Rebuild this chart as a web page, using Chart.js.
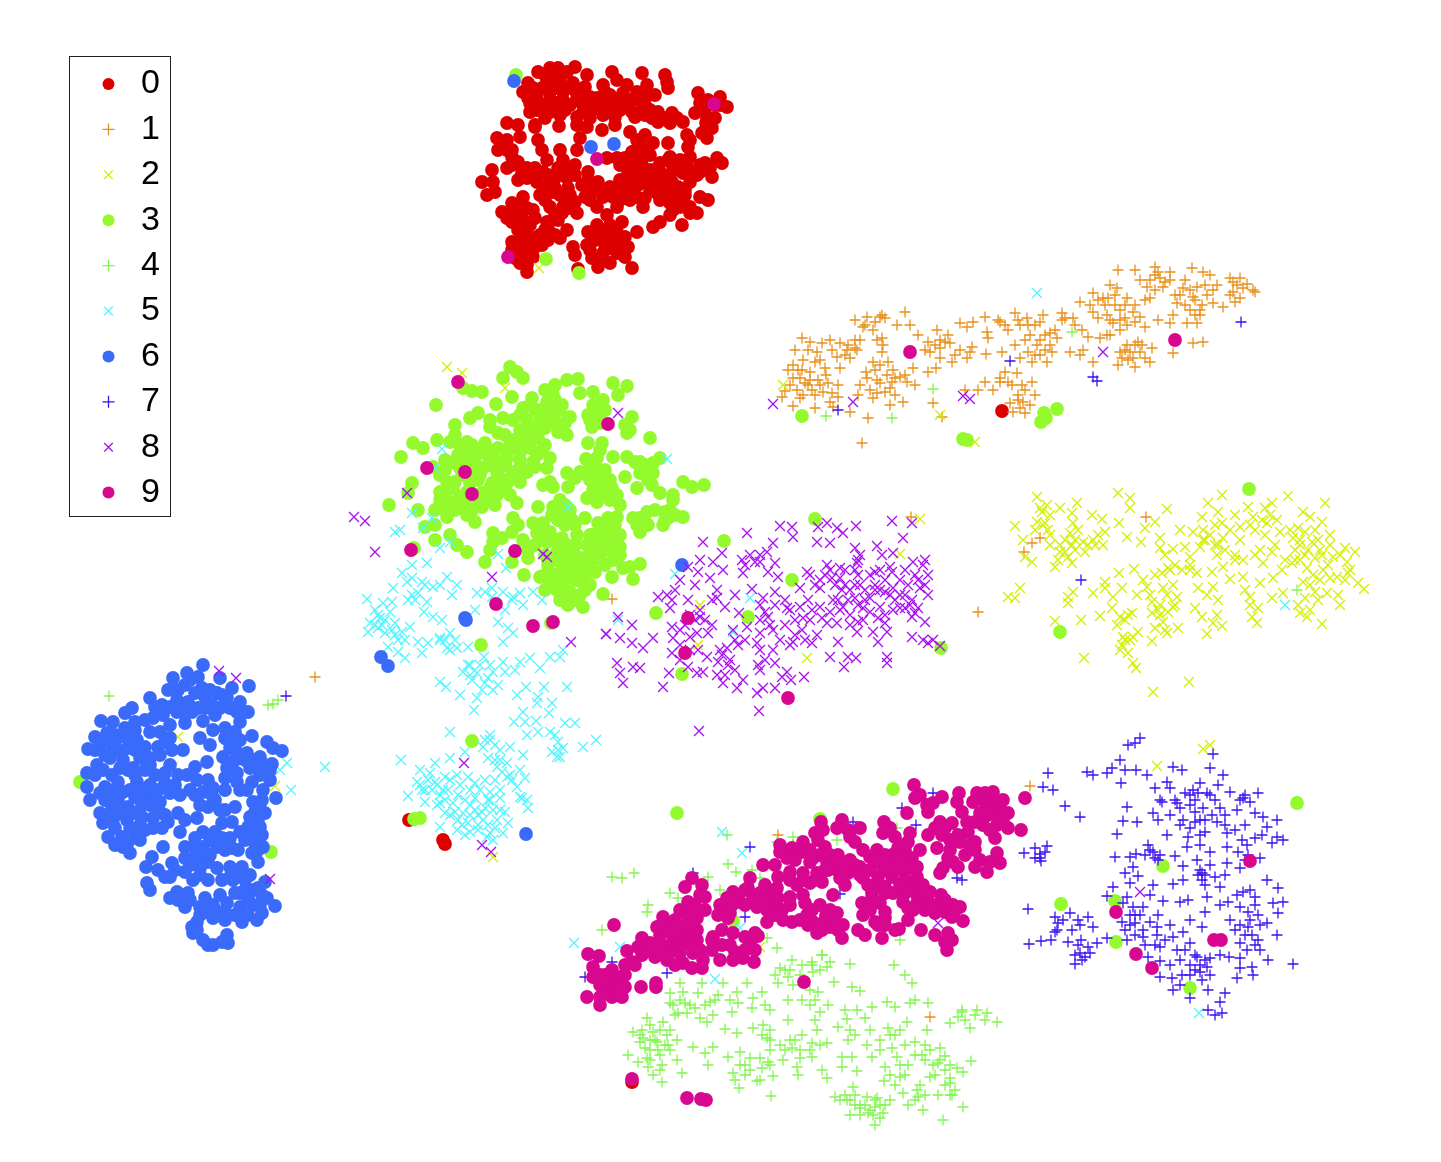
<!DOCTYPE html>
<html>
<head>
<meta charset="utf-8">
<title>tsne</title>
<script src="https://cdn.jsdelivr.net/npm/chart.js@4"></script>
<style>
  html, body { margin: 0; padding: 0; background: #fff; }
  canvas { display: block; }
</style>
</head>
<body>
<canvas id="chartTsne" width="1441" height="1162"></canvas>
<script>
// ************************************
// DATA
// ************************************
const digit_labels = ['0', '1', '2', '3', '4', '5', '6', '7', '8', '9'];

const digit0 = [[538,72],[550,68],[558,68],[575,67],[587,75],[528,83],[523,92],[547,80],[560,80],[573,83],[585,87],[537,95],[550,92],[563,92],[577,95],[530,103],[543,105],[557,103],[570,105],[583,105],[530,112],[545,118],[559,126],[560,115],[577,117],[577,125],[587,127],[535,125],[603,85],[597,98],[610,95],[610,105],[595,108],[603,115],[615,117],[602,130],[615,125],[612,72],[617,80],[627,85],[642,73],[647,85],[623,93],[637,92],[655,95],[627,105],[635,117],[645,105],[645,115],[658,112],[672,113],[658,122],[670,123],[683,122],[665,75],[667,82],[668,88],[698,93],[720,97],[700,103],[715,105],[727,107],[695,113],[707,118],[715,118],[712,128],[702,133],[707,138],[687,135],[688,147],[668,143],[670,157],[690,157],[700,165],[717,158],[722,163],[710,168],[712,177],[697,175],[690,182],[660,163],[673,167],[683,173],[663,175],[678,187],[667,190],[653,182],[630,132],[637,140],[653,143],[647,150],[632,152],[617,158],[630,163],[642,165],[607,158],[628,173],[640,175],[638,185],[620,187],[610,187],[630,192],[647,183],[683,200],[700,197],[708,200],[690,207],[673,210],[697,213],[682,225],[670,215],[660,222],[653,227],[678,197],[660,200],[668,190],[643,207],[637,197],[657,193],[613,197],[623,197],[603,197],[597,207],[607,215],[617,207],[585,197],[597,225],[622,222],[588,232],[605,230],[617,232],[637,232],[587,245],[603,240],[617,243],[628,247],[592,258],[603,253],[617,253],[625,257],[598,267],[610,263],[632,268],[578,269],[507,123],[518,125],[535,127],[520,137],[497,138],[507,140],[498,150],[512,150],[538,140],[542,150],[492,170],[507,168],[518,162],[527,168],[482,182],[493,182],[518,180],[487,195],[495,192],[560,150],[547,160],[563,160],[577,150],[580,138],[543,172],[558,168],[575,165],[588,172],[537,182],[550,182],[567,178],[598,182],[540,195],[553,192],[568,188],[550,207],[563,207],[575,202],[577,213],[558,220],[512,203],[523,197],[502,212],[513,213],[527,208],[512,222],[523,220],[533,210],[547,222],[527,232],[540,235],[548,228],[567,230],[512,242],[525,242],[542,245],[512,250],[525,253],[533,257],[520,263],[527,272],[560,238],[573,247],[575,255],[555,235],[443,840],[445,844],[409,820],[1002,411],[632,1082],
[545,75],[555,74],[567,72],[533,88],[542,88],[556,88],[568,88],[580,92],[528,98],[537,102],[550,100],[563,100],[577,100],[590,97],[537,110],[550,112],[565,110],[583,112],[592,105],[605,92],[603,105],[590,118],[610,112],[620,98],[632,100],[640,100],[648,95],[620,110],[632,112],[640,112],[650,110],[652,118],[664,118],[677,118],[705,110],[708,100],[720,105],[709,126],[706,123],[690,140],[680,160],[680,170],[688,168],[692,172],[700,172],[705,163],[670,175],[655,170],[668,160],[650,170],[660,172],[650,190],[660,185],[672,182],[675,195],[685,190],[670,203],[680,207],[690,213],[685,195],[645,198],[632,182],[620,180],[615,192],[625,185],[635,170],[620,165],[625,158],[640,157],[650,155],[640,145],[645,135],[636,150],[600,190],[608,193],[620,200],[630,200],[590,200],[610,225],[597,235],[610,235],[625,237],[595,240],[610,248],[622,250],[600,260],[605,245],[612,240],[590,250],[502,145],[507,150],[512,157],[512,165],[522,173],[527,178],[532,172],[535,168],[548,175],[555,178],[545,188],[555,188],[545,200],[560,195],[568,200],[570,195],[562,213],[555,215],[570,208],[545,230],[518,205],[510,212],[518,213],[507,218],[518,230],[530,225],[535,218],[520,240],[532,238],[518,250],[530,250],[540,240],[535,247],[548,240],[515,258],[523,260],[527,265],[560,175],[570,170],[575,175],[582,185],[590,185],[595,190],[588,180]];

const digit1 = [[802,338],[810,342],[822,343],[830,340],[840,343],[855,340],[847,350],[837,357],[850,358],[857,350],[817,352],[803,360],[793,365],[788,370],[802,370],[815,362],[825,368],[840,368],[810,372],[800,378],[818,380],[828,383],[805,383],[797,390],[812,390],[823,392],[832,393],[785,391],[782,397],[793,406],[803,395],[815,395],[830,402],[838,397],[833,407],[815,408],[850,412],[867,378],[873,362],[882,352],[888,362],[875,370],[887,375],[893,370],[900,377],[860,385],[880,383],[892,382],[907,382],[915,385],[877,393],[873,398],[858,395],[890,388],[890,405],[903,402],[868,418],[913,368],[855,320],[867,317],[882,315],[880,317],[863,327],[873,330],[882,338],[897,325],[910,325],[905,312],[918,335],[928,342],[937,330],[948,335],[930,352],[940,348],[950,343],[960,350],[940,358],[952,362],[967,358],[928,372],[972,347],[986,354],[960,323],[973,322],[985,317],[998,320],[967,327],[987,332],[988,338],[1008,330],[1002,352],[1015,345],[1015,313],[1027,318],[1043,315],[1020,325],[1035,325],[1030,335],[1050,333],[1057,338],[1037,345],[1050,345],[1028,352],[1040,355],[1032,362],[1047,362],[1062,313],[1073,318],[1062,320],[1082,330],[1088,337],[1100,338],[1110,335],[1070,352],[1083,350],[1093,362],[1080,355],[1122,358],[1130,352],[1138,342],[1133,358],[1140,352],[1152,348],[1150,362],[1135,367],[1118,365],[1173,353],[1193,343],[1203,342],[1005,372],[1017,373],[1008,382],[1000,382],[1032,382],[985,382],[993,390],[978,390],[965,390],[1018,395],[1035,395],[1023,402],[1010,403],[1013,412],[1025,413],[933,403],[942,417],[862,443],[1080,302],[1093,293],[1103,298],[1110,285],[1118,270],[1135,270],[1117,288],[1127,298],[1140,280],[1155,275],[1170,272],[1147,287],[1163,287],[1150,298],[1155,267],[1192,268],[1203,272],[1183,288],[1197,287],[1210,275],[1217,285],[1180,295],[1193,297],[1207,295],[1223,307],[1177,303],[1200,310],[1213,303],[1230,278],[1240,278],[1233,292],[1243,288],[1253,290],[1240,298],[1230,295],[1093,312],[1107,315],[1120,310],[1133,312],[1113,323],[1127,325],[1140,317],[1145,327],[1098,318],[1158,320],[1170,323],[1187,323],[1197,323],[1173,315],[1200,315],[1107,335],[1146,517],[1032,543],[1040,538],[1024,552],[612,599],[911,517],[315,677],[1030,786],[778,835],[793,845],[930,1017],[978,612],
[795,350],[808,350],[820,360],[832,350],[845,355],[798,370],[810,380],[793,378],[790,385],[800,398],[808,385],[820,385],[826,375],[838,385],[848,345],[855,348],[860,340],[865,325],[875,322],[885,318],[877,340],[883,345],[880,365],[895,378],[905,375],[885,392],[877,380],[866,372],[895,395],[870,390],[940,340],[935,345],[945,342],[955,355],[925,350],[936,368],[970,352],[1000,322],[1005,325],[1018,320],[1028,325],[1040,322],[1025,340],[1040,340],[1045,335],[1055,330],[1045,350],[1035,355],[1020,358],[1052,352],[1065,318],[1075,325],[1090,305],[1098,300],[1108,298],[1115,295],[1125,305],[1135,305],[1145,300],[1150,280],[1160,278],[1165,282],[1155,290],[1170,280],[1158,272],[1175,295],[1185,280],[1190,290],[1195,300],[1202,305],[1205,285],[1213,290],[1190,310],[1195,315],[1185,305],[1233,282],[1237,285],[1247,284],[1255,292],[1235,302],[1125,350],[1127,345],[1135,345],[1142,345],[1128,360],[1120,352],[1145,358],[1110,320],[1120,320],[1125,318],[1105,305],[1115,305],[1135,322],[1120,330],[1000,378],[1012,385],[1025,390],[1022,385],[1030,405],[1020,408],[1018,400]];

const digit2 = [[1037,497],[1040,508],[1047,505],[1037,522],[1045,523],[1048,530],[1015,526],[1023,540],[1025,557],[1032,562],[1050,545],[1060,508],[1077,503],[1072,513],[1073,523],[1070,533],[1072,545],[1060,552],[1068,557],[1072,563],[1058,560],[1055,567],[1085,552],[1083,542],[1093,540],[1092,515],[1102,519],[1105,532],[1103,545],[1118,493],[1130,498],[1130,508],[1119,523],[1127,537],[1141,542],[1167,509],[1155,522],[1145,528],[1160,538],[1160,548],[1173,549],[1180,530],[1193,532],[1185,547],[1190,557],[1202,517],[1208,503],[1222,495],[1218,512],[1203,530],[1222,523],[1200,547],[1217,555],[1223,538],[1235,515],[1248,507],[1240,527],[1253,517],[1265,508],[1272,503],[1288,496],[1325,503],[1267,523],[1277,520],[1280,532],[1235,555],[1243,560],[1255,555],[1272,552],[1263,563],[1243,577],[1230,579],[1223,567],[1212,572],[1260,583],[1273,578],[1282,570],[1292,563],[1300,560],[1293,538],[1303,512],[1310,517],[1322,522],[1298,528],[1312,542],[1330,535],[1295,550],[1308,550],[1320,550],[1345,548],[1355,552],[1333,557],[1347,562],[1307,568],[1323,570],[1337,577],[1348,573],[1320,580],[1358,583],[1364,589],[1303,582],[1315,592],[1327,593],[1338,595],[1340,605],[1283,593],[1272,598],[1250,597],[1250,605],[1258,608],[1252,617],[1257,623],[1298,605],[1300,613],[1310,610],[1307,617],[1322,624],[1015,598],[1020,588],[1008,597],[1068,597],[1073,592],[1068,603],[1093,593],[1105,582],[1105,588],[1119,573],[1134,569],[1143,580],[1162,573],[1168,568],[1182,570],[1197,573],[1122,588],[1137,595],[1113,597],[1112,608],[1147,587],[1163,588],[1173,585],[1177,597],[1167,595],[1152,602],[1160,605],[1173,607],[1152,613],[1120,617],[1132,613],[1117,625],[1163,622],[1155,628],[1167,633],[1178,628],[1123,637],[1133,637],[1138,632],[1152,641],[1120,650],[1128,653],[1133,663],[1136,668],[1084,658],[1081,620],[1100,616],[1055,621],[1189,682],[1153,692],[1198,588],[1207,595],[1213,587],[1218,600],[1195,608],[1202,617],[1217,615],[1213,623],[1207,634],[1222,626],[447,367],[462,373],[505,388],[178,737],[173,767],[275,786],[539,268],[493,857],[700,605],[698,645],[807,658],[900,554],[920,519],[783,385],[940,415],[975,442],[1157,766],[1203,749],[1210,745],[760,947],
[1042,512],[1050,515],[1043,525],[1050,535],[1035,530],[1078,530],[1075,540],[1065,540],[1060,545],[1065,552],[1075,550],[1088,545],[1098,535],[1095,545],[1210,535],[1215,525],[1230,530],[1240,540],[1250,525],[1255,530],[1262,520],[1270,515],[1265,535],[1275,545],[1285,560],[1260,550],[1290,530],[1300,540],[1305,532],[1315,530],[1318,540],[1295,560],[1305,555],[1300,545],[1315,558],[1322,555],[1330,545],[1340,555],[1328,565],[1313,575],[1330,578],[1310,585],[1345,580],[1350,570],[1318,600],[1305,598],[1245,590],[1225,550],[1235,560],[1215,545],[1205,540],[1165,555],[1170,570],[1175,565],[1155,575],[1190,565],[1150,595],[1158,610],[1168,612],[1125,620],[1128,615],[1125,640],[1130,640],[1122,645],[1165,630],[1160,615],[1175,605],[1190,570],[1203,540],[1218,545]];

const digit3 = [[510,367],[503,378],[523,378],[517,372],[512,397],[463,388],[472,391],[482,392],[436,405],[496,404],[555,385],[567,380],[578,379],[553,395],[580,393],[593,392],[613,383],[627,386],[618,395],[532,398],[547,402],[562,405],[523,408],[535,410],[555,413],[513,420],[527,420],[540,420],[552,422],[570,417],[565,423],[558,432],[567,435],[593,405],[603,400],[588,415],[600,413],[592,427],[632,417],[625,425],[627,433],[650,438],[470,418],[478,413],[490,420],[503,418],[490,427],[498,433],[455,425],[455,435],[450,442],[437,440],[413,443],[423,448],[401,457],[467,442],[485,443],[463,452],[475,453],[453,462],[467,463],[487,455],[498,448],[515,440],[527,437],[538,438],[515,448],[530,448],[542,450],[550,458],[520,460],[533,462],[547,468],[507,458],[495,460],[483,468],[497,472],[512,472],[527,472],[447,482],[462,475],[478,480],[492,483],[507,483],[520,482],[440,492],[453,488],[467,492],[482,493],[497,495],[510,495],[412,483],[408,493],[389,505],[450,502],[463,503],[482,507],[495,505],[517,503],[418,510],[435,510],[447,517],[467,515],[475,522],[435,525],[425,527],[433,467],[513,518],[518,525],[512,532],[538,507],[493,533],[502,538],[490,550],[435,540],[450,535],[457,545],[467,552],[485,562],[512,562],[524,575],[493,542],[543,485],[553,487],[550,482],[567,473],[580,472],[568,487],[587,475],[586,459],[588,443],[602,443],[597,458],[613,457],[627,457],[635,462],[660,458],[653,463],[625,477],[640,473],[653,473],[637,488],[652,485],[660,493],[683,482],[692,487],[704,485],[673,495],[673,500],[597,475],[603,483],[593,490],[607,495],[587,498],[597,502],[617,495],[620,505],[553,507],[563,512],[558,520],[572,520],[585,518],[577,535],[533,523],[543,523],[537,533],[550,532],[562,538],[523,540],[528,550],[528,558],[547,542],[557,552],[570,550],[548,565],[540,577],[560,562],[598,523],[608,518],[617,517],[593,535],[610,532],[587,545],[603,545],[620,547],[583,558],[598,558],[613,560],[623,568],[640,564],[630,567],[612,577],[633,579],[595,572],[633,518],[647,512],[637,525],[648,525],[640,532],[665,512],[675,515],[683,517],[663,525],[563,568],[577,565],[587,572],[550,582],[567,578],[582,582],[557,590],[570,592],[580,595],[568,605],[583,607],[603,594],[414,548],[516,75],[546,259],[579,273],[802,416],[963,439],[967,440],[1044,413],[1057,409],[1046,418],[1041,422],[815,519],[724,541],[792,580],[748,617],[682,674],[656,613],[941,648],[1249,489],[1060,632],[481,645],[472,741],[414,819],[420,818],[80,782],[271,852],[677,813],[893,789],[820,819],[733,921],[1297,803],[1061,904],[1115,901],[1116,942],[1163,866],[1190,988],[551,623],
[505,435],[520,430],[535,430],[510,440],[522,445],[545,445],[505,450],[520,452],[537,455],[505,465],[520,467],[535,467],[490,465],[475,462],[460,468],[445,470],[440,475],[470,470],[480,475],[455,482],[470,483],[500,478],[515,478],[445,497],[460,497],[475,500],[490,488],[503,490],[490,500],[472,510],[455,510],[445,510],[440,500],[472,445],[480,452],[490,450],[460,445],[458,455],[445,460],[530,405],[540,410],[520,415],[530,428],[545,428],[560,410],[547,415],[560,425],[598,405],[605,410],[590,420],[600,423],[545,390],[555,400],[630,430],[600,450],[595,465],[605,470],[610,480],[600,495],[590,480],[600,490],[612,488],[610,500],[575,478],[590,465],[645,465],[650,468],[640,462],[648,480],[640,518],[645,522],[655,510],[670,510],[668,518],[665,520],[560,500],[565,505],[552,515],[565,525],[575,525],[570,510],[545,530],[555,540],[567,545],[575,545],[540,540],[560,550],[545,555],[535,545],[555,575],[550,560],[545,575],[565,560],[575,572],[575,580],[590,555],[600,535],[605,525],[615,525],[610,540],[600,555],[610,550],[590,535],[595,545],[605,565],[620,555],[620,535],[593,560],[545,590],[560,600],[575,600],[565,590],[557,580],[575,555],[585,565],[590,585],[572,570],[585,590]];

const digit4 = [[680,983],[670,993],[683,992],[698,993],[702,983],[723,983],[718,995],[737,992],[747,983],[673,1005],[685,1003],[678,1013],[687,1013],[700,1018],[713,1015],[707,1022],[710,1002],[732,1012],[738,1003],[752,1008],[753,998],[762,992],[765,1005],[770,1010],[775,975],[780,968],[792,960],[802,965],[812,962],[822,955],[827,967],[788,977],[778,983],[813,972],[834,982],[850,964],[852,987],[860,991],[818,992],[788,1000],[802,1000],[810,1005],[828,1005],[820,1012],[894,965],[905,975],[912,983],[915,1000],[910,1003],[928,1003],[887,1002],[895,1007],[872,1007],[857,1010],[845,1010],[865,1018],[847,1019],[838,1027],[647,1018],[663,1022],[642,1030],[633,1032],[653,1032],[667,1035],[643,1038],[657,1042],[677,1040],[668,1045],[650,1050],[660,1055],[628,1055],[638,1062],[647,1058],[677,1060],[648,1067],[662,1065],[653,1075],[662,1082],[682,1073],[693,1047],[705,1053],[713,1047],[708,1065],[725,1029],[737,1033],[753,1028],[763,1025],[767,1038],[788,1020],[802,1035],[817,1030],[770,1050],[780,1045],[792,1048],[812,1043],[827,1043],[728,1057],[740,1052],[750,1058],[768,1062],[783,1060],[812,1057],[797,1067],[822,1070],[762,1068],[733,1073],[745,1075],[757,1081],[773,1076],[798,1075],[827,1078],[739,1088],[771,1096],[848,1040],[867,1045],[842,1057],[852,1057],[872,1057],[888,1028],[895,1035],[907,1022],[892,1048],[905,1045],[915,1042],[927,1030],[897,1057],[922,1055],[940,1048],[945,1056],[885,1067],[842,1067],[857,1071],[908,1065],[933,1065],[938,1063],[957,1068],[971,1061],[963,1072],[900,1077],[930,1077],[950,1078],[884,1081],[853,1087],[835,1097],[847,1100],[867,1097],[877,1098],[890,1100],[875,1107],[850,1115],[860,1115],[868,1113],[883,1113],[875,1125],[903,1093],[917,1090],[918,1097],[952,1095],[938,1095],[908,1105],[923,1110],[963,1107],[943,1120],[950,1083],[962,1010],[977,1010],[987,1013],[997,1022],[950,1023],[970,1028],[958,1017],[612,877],[622,878],[634,873],[648,905],[647,912],[602,930],[727,835],[777,842],[793,837],[728,864],[736,872],[752,870],[760,878],[708,877],[670,893],[678,898],[720,890],[837,840],[897,828],[900,940],[767,938],[777,948],[822,955],[109,696],[268,705],[278,700],[273,704],[826,416],[892,418],[933,389],[1072,332],[1297,590],
[650,1025],[660,1030],[670,1030],[640,1035],[655,1040],[665,1045],[650,1040],[640,1042],[658,1050],[670,1050],[645,1048],[660,1070],[650,1060],[670,1003],[680,1000],[690,1005],[675,1015],[695,1008],[705,1005],[715,1000],[730,1000],[790,970],[800,975],[812,965],[820,970],[830,962],[793,985],[785,970],[810,990],[815,1000],[815,1020],[790,1040],[795,1040],[785,1050],[800,1050],[770,1040],[762,1035],[770,1030],[810,1050],[820,1045],[800,1058],[760,1058],[745,1065],[750,1070],[735,1080],[740,1065],[770,1065],[760,1080],[850,1030],[855,1035],[870,1030],[880,1040],[890,1035],[880,1050],[900,1030],[915,1055],[925,1045],[930,1050],[940,1060],[935,1075],[945,1070],[950,1065],[925,1060],[945,1085],[955,1090],[950,1095],[920,1085],[925,1095],[915,1100],[865,1105],[875,1100],[880,1105],[870,1110],[860,1105],[855,1105],[860,1108],[885,1105],[880,1118],[873,1115],[900,1065],[890,1075],[895,1085],[905,1075],[840,1100],[850,1100],[845,1095],[855,1095],[962,1012],[965,1020],[975,1015],[985,1020]];

const digit5 = [[367,599],[383,603],[392,602],[402,573],[412,565],[427,563],[407,582],[422,582],[393,588],[418,593],[408,600],[427,602],[433,587],[447,577],[457,585],[452,595],[440,585],[424,612],[433,617],[442,620],[378,615],[390,612],[370,623],[382,625],[395,623],[368,632],[385,633],[410,627],[402,632],[398,640],[388,647],[398,652],[405,658],[418,642],[428,643],[422,653],[440,638],[450,633],[447,648],[457,648],[468,647],[477,593],[485,592],[475,610],[492,588],[503,592],[513,597],[520,593],[533,592],[542,600],[523,605],[505,610],[498,622],[508,628],[513,633],[503,642],[484,657],[503,662],[520,662],[530,658],[550,657],[560,657],[563,650],[540,668],[468,665],[463,672],[477,673],[493,672],[505,672],[515,670],[485,683],[498,685],[440,682],[446,687],[460,695],[477,698],[474,710],[517,695],[526,687],[544,687],[567,687],[538,697],[537,703],[552,703],[523,712],[549,713],[514,722],[525,722],[536,721],[565,723],[575,723],[527,735],[538,732],[550,732],[558,742],[563,748],[557,757],[583,747],[596,740],[450,732],[490,735],[483,747],[500,750],[510,747],[523,755],[465,752],[450,758],[401,760],[435,763],[420,770],[430,773],[417,782],[435,782],[445,777],[457,775],[468,777],[488,758],[497,767],[507,763],[520,770],[525,778],[517,787],[485,780],[475,783],[507,777],[500,790],[408,796],[425,802],[422,790],[448,790],[440,803],[453,803],[475,798],[488,800],[500,798],[520,797],[528,808],[445,813],[463,813],[482,812],[493,810],[468,823],[483,820],[497,820],[508,823],[440,827],[457,830],[465,835],[478,830],[490,833],[503,833],[493,840],[487,837],[1037,293],[442,449],[435,468],[412,513],[432,518],[423,528],[400,530],[395,532],[440,548],[450,542],[498,554],[506,568],[568,507],[667,459],[675,574],[750,598],[618,620],[733,632],[287,763],[280,770],[325,767],[291,790],[1285,605],[722,832],[742,853],[574,943],[620,947],[715,979],[740,928],[1199,1013],
[375,625],[385,620],[392,630],[378,628],[405,640],[395,635],[380,618],[375,610],[412,595],[412,578],[425,585],[415,600],[440,640],[445,640],[455,640],[450,650],[492,597],[512,600],[470,665],[472,680],[482,690],[490,665],[470,675],[480,665],[488,678],[493,690],[437,805],[445,800],[458,795],[465,800],[470,805],[478,815],[485,808],[490,800],[500,810],[505,812],[470,815],[458,820],[450,815],[432,790],[428,780],[425,790],[420,785],[440,795],[450,780],[480,790],[490,792],[495,780],[495,760],[502,772],[512,780],[460,785],[470,790],[475,810],[495,828],[488,825],[478,825],[462,825],[470,832],[455,812],[443,790],[437,785],[522,798],[527,800],[555,735],[558,750],[560,757],[552,752],[490,740],[485,740],[495,745],[500,760],[510,775]];

const digit6 = [[203,665],[187,673],[173,678],[198,677],[185,685],[202,688],[220,678],[249,686],[232,688],[168,690],[150,698],[162,705],[177,700],[188,702],[205,697],[217,693],[227,698],[240,702],[212,705],[198,708],[230,708],[248,712],[132,708],[125,713],[215,715],[185,723],[203,721],[163,715],[170,725],[240,722],[225,728],[213,730],[235,732],[252,736],[200,738],[101,721],[113,722],[145,720],[153,718],[135,730],[107,733],[95,737],[160,732],[120,737],[137,740],[88,749],[100,747],[113,745],[128,748],[145,747],[158,747],[172,750],[183,750],[110,758],[123,760],[140,758],[97,765],[87,773],[128,770],[145,770],[112,775],[155,775],[165,773],[87,787],[90,800],[105,787],[118,782],[137,782],[150,785],[165,783],[110,797],[123,792],[147,797],[170,793],[112,807],[128,807],[142,805],[160,802],[100,813],[113,820],[127,820],[142,817],[103,823],[153,818],[108,837],[122,837],[135,832],[145,830],[123,847],[130,853],[162,828],[168,822],[180,832],[178,813],[185,820],[197,818],[187,775],[195,767],[207,762],[170,765],[190,790],[197,780],[208,780],[203,792],[213,788],[208,807],[220,810],[210,745],[223,757],[235,747],[227,768],[228,740],[247,753],[260,757],[272,764],[267,742],[273,748],[282,751],[250,768],[237,773],[260,775],[225,790],[237,782],[252,782],[263,790],[276,798],[253,802],[235,807],[260,803],[250,817],[265,813],[248,827],[260,827],[255,843],[263,847],[258,862],[252,853],[240,832],[222,823],[232,822],[215,832],[203,832],[195,838],[185,847],[203,847],[217,847],[230,838],[238,850],[163,847],[152,857],[146,867],[158,870],[172,863],[185,858],[198,858],[208,862],[170,877],[185,872],[193,880],[208,880],[217,868],[230,867],[242,867],[233,880],[245,880],[265,882],[147,883],[150,890],[177,892],[170,898],[188,893],[185,907],[200,907],[213,905],[227,903],[240,893],[253,890],[267,898],[275,906],[213,918],[225,920],[242,922],[257,920],[262,913],[240,907],[253,905],[197,922],[193,933],[203,940],[213,945],[227,935],[228,943],[222,942],[514,81],[591,147],[614,144],[465,618],[466,620],[381,657],[388,666],[526,834],[682,565],
[190,680],[195,693],[210,690],[222,695],[178,690],[183,712],[192,712],[205,708],[220,708],[237,712],[177,712],[170,707],[155,707],[105,740],[115,735],[125,728],[135,722],[128,738],[150,732],[170,738],[165,742],[95,750],[105,755],[118,750],[135,750],[150,758],[160,755],[95,775],[103,770],[120,768],[133,768],[150,765],[135,775],[100,793],[115,790],[130,790],[142,790],[155,793],[105,800],[118,800],[135,797],[158,790],[150,805],[120,813],[135,813],[160,812],[108,815],[115,828],[130,828],[140,825],[153,828],[115,845],[128,842],[140,840],[175,785],[178,775],[180,795],[195,795],[200,805],[215,800],[212,795],[225,810],[165,815],[240,740],[225,738],[230,748],[240,755],[235,760],[245,760],[255,760],[225,778],[240,790],[247,790],[258,765],[265,765],[270,780],[262,800],[255,812],[258,820],[245,840],[250,835],[262,835],[258,850],[270,770],[195,848],[210,840],[222,838],[195,858],[210,855],[225,850],[232,848],[175,870],[190,865],[200,868],[165,877],[200,875],[222,880],[230,877],[240,875],[250,875],[258,888],[262,895],[245,890],[205,898],[220,895],[235,893],[248,898],[260,905],[225,912],[235,915],[248,915],[205,912],[200,915],[215,910],[190,900],[178,900],[192,927],[197,930],[208,945]];

const digit7 = [[1140,738],[1135,743],[1128,745],[1120,760],[1112,768],[1087,772],[1093,775],[1107,773],[1125,770],[1136,770],[1121,783],[1147,775],[1048,773],[1043,787],[1053,790],[1065,806],[1080,817],[1127,807],[1123,821],[1137,822],[1117,834],[1153,813],[1158,820],[1173,767],[1182,770],[1213,754],[1210,768],[1223,775],[1155,788],[1167,782],[1170,788],[1162,802],[1200,783],[1185,793],[1193,790],[1207,793],[1177,803],[1190,805],[1203,808],[1220,808],[1218,785],[1230,792],[1243,798],[1258,793],[1237,810],[1255,813],[1263,817],[1277,820],[1267,827],[1277,837],[1283,840],[1170,815],[1183,820],[1200,820],[1217,822],[1245,825],[1167,835],[1188,837],[1205,832],[1227,833],[1242,840],[1255,838],[1272,843],[1187,847],[1210,852],[1227,847],[1238,852],[1247,845],[1260,858],[1148,845],[1153,852],[1136,854],[1130,857],[1115,857],[1155,858],[1175,856],[1183,866],[1197,860],[1210,865],[1227,863],[1240,868],[1202,873],[1215,877],[1173,884],[1183,880],[1202,880],[1220,887],[1133,867],[1125,873],[1138,876],[1130,883],[1113,887],[1153,885],[1107,896],[1127,897],[1150,895],[1163,901],[1180,902],[1188,900],[1207,897],[1205,912],[1220,905],[1228,902],[1243,892],[1255,897],[1267,880],[1278,888],[1273,903],[1283,902],[1278,913],[1240,907],[1230,920],[1248,912],[1258,915],[1235,930],[1248,927],[1267,923],[1258,940],[1277,935],[1240,943],[1247,950],[1268,960],[1252,967],[1240,968],[1253,975],[1237,978],[1293,964],[1229,957],[1220,955],[1123,903],[1133,907],[1143,907],[1158,915],[1122,922],[1135,923],[1143,930],[1157,927],[1107,938],[1127,940],[1143,937],[1157,935],[1173,937],[1183,932],[1202,927],[1190,920],[1160,947],[1177,950],[1190,943],[1148,957],[1160,961],[1180,960],[1197,957],[1210,958],[1190,965],[1207,967],[1160,977],[1172,978],[1190,975],[1202,980],[1173,990],[1208,990],[1190,998],[1225,993],[1220,1002],[1208,1010],[1222,1013],[1215,1015],[1040,854],[1035,848],[1047,846],[1024,853],[1035,858],[1041,861],[1028,909],[1055,917],[1063,920],[1070,913],[1078,920],[1088,917],[1093,927],[1057,930],[1072,930],[1029,944],[1041,941],[1051,940],[1068,942],[1081,940],[1088,947],[1097,943],[1080,953],[1090,953],[1082,960],[1075,964],[838,410],[1010,361],[1093,377],[1097,381],[1241,322],[1081,580],[286,696],[750,847],[612,962],[667,973],[585,977],[657,938],[693,873],[962,880],[957,878],[916,825],[902,808],[933,793],[853,822],[840,894],[823,920],[745,917],
[1195,800],[1180,808],[1195,812],[1210,795],[1215,800],[1212,815],[1225,815],[1240,800],[1250,802],[1245,795],[1235,830],[1225,825],[1190,828],[1180,825],[1200,835],[1195,822],[1205,820],[1200,845],[1248,855],[1245,860],[1262,835],[1190,795],[1198,793],[1175,800],[1160,800],[1150,850],[1145,855],[1158,860],[1160,855],[1198,875],[1200,870],[1205,875],[1205,885],[1225,875],[1237,895],[1250,890],[1255,905],[1250,920],[1240,925],[1245,935],[1252,935],[1260,925],[1255,945],[1260,950],[1240,958],[1130,925],[1135,915],[1140,915],[1150,922],[1170,925],[1155,945],[1165,940],[1135,935],[1145,945],[1130,915],[1125,930],[1185,950],[1195,955],[1205,960],[1195,970],[1200,972],[1200,965],[1210,975],[1170,965],[1182,975],[1180,985],[1058,923],[1080,925],[1055,932],[1078,945],[1085,957],[1075,955],[1040,858],[1045,852]];

const digit8 = [[606,634],[620,638],[632,625],[618,617],[632,643],[643,648],[653,638],[617,663],[633,667],[640,668],[620,673],[623,683],[663,687],[669,673],[658,597],[672,600],[670,608],[688,600],[680,580],[688,567],[695,585],[703,542],[700,560],[713,562],[722,553],[723,570],[710,578],[717,590],[725,607],[717,598],[698,572],[747,533],[742,560],[755,562],[743,573],[735,595],[752,589],[763,598],[767,552],[773,543],[775,563],[768,572],[778,577],[775,592],[780,526],[792,527],[793,537],[818,527],[827,523],[837,528],[843,533],[817,542],[830,543],[856,526],[892,521],[912,523],[903,538],[877,546],[807,572],[800,588],[820,580],[827,565],[840,578],[857,563],[855,548],[820,588],[842,590],[858,575],[882,555],[893,553],[890,567],[875,572],[905,570],[913,562],[923,565],[928,575],[893,588],[885,592],[908,585],[920,588],[928,595],[900,595],[870,598],[855,598],[833,600],[820,607],[843,607],[863,608],[880,607],[893,610],[905,608],[915,613],[925,622],[912,617],[863,620],[885,623],[850,615],[837,623],[827,623],[857,632],[878,642],[873,632],[887,632],[838,642],[848,657],[856,658],[830,657],[844,667],[887,657],[887,663],[912,637],[923,640],[933,640],[940,646],[928,643],[800,607],[787,608],[768,617],[773,630],[803,618],[810,620],[785,625],[802,630],[817,635],[765,612],[760,633],[747,627],[739,613],[757,643],[738,645],[727,648],[773,650],[790,645],[793,642],[812,643],[775,663],[758,665],[728,665],[718,662],[717,675],[723,683],[737,688],[743,680],[757,693],[763,688],[775,688],[782,677],[791,680],[804,677],[787,672],[759,711],[699,731],[672,627],[673,638],[690,637],[697,633],[708,633],[712,625],[700,617],[680,645],[698,650],[707,657],[672,653],[688,667],[697,673],[703,672],[733,630],[354,517],[365,521],[375,552],[407,493],[492,577],[543,554],[547,557],[618,413],[571,642],[606,634],[464,763],[482,845],[491,852],[219,671],[236,678],[270,879],[773,404],[853,402],[963,396],[970,399],[1103,352],[1140,892],[938,923],
[810,575],[815,585],[830,570],[835,585],[845,585],[838,600],[850,590],[860,585],[865,590],[875,590],[880,590],[890,595],[895,600],[905,595],[912,600],[918,580],[925,585],[915,575],[900,580],[885,580],[875,585],[865,600],[858,605],[848,600],[840,610],[830,612],[822,618],[850,625],[858,622],[870,612],[878,618],[885,615],[900,608],[910,605],[918,608],[845,570],[840,568],[832,578],[825,575],[855,585],[870,575],[880,570],[855,570],[860,555],[858,560],[892,572],[925,560],[760,605],[775,605],[785,600],[795,620],[760,620],[770,625],[780,640],[795,635],[805,640],[760,650],[735,640],[745,640],[720,650],[722,655],[730,660],[735,670],[760,670],[765,660],[725,675],[745,565],[750,555],[760,555],[760,562],[712,600],[700,610],[690,615],[685,625],[675,590],[667,595],[695,620],[705,620],[680,630],[690,650],[680,660],[790,610],[808,600],[812,610]];

const digit9 = [[914,785],[920,795],[915,798],[927,805],[942,797],[933,803],[928,812],[907,813],[959,793],[957,802],[962,812],[977,793],[993,792],[985,793],[1003,800],[973,802],[988,805],[1008,813],[980,813],[997,813],[1008,828],[997,825],[983,825],[995,838],[975,842],[1025,798],[1021,830],[940,822],[952,823],[967,822],[928,835],[942,835],[958,835],[937,848],[950,850],[965,855],[953,862],[943,868],[940,873],[958,867],[980,860],[975,867],[987,872],[997,853],[1000,863],[990,862],[884,822],[883,833],[895,837],[910,833],[908,842],[920,850],[863,850],[877,850],[898,848],[912,858],[917,867],[890,863],[878,863],[903,870],[917,877],[878,877],[892,877],[905,880],[885,887],[900,885],[923,885],[930,892],[872,893],[885,893],[917,895],[903,902],[917,903],[928,902],[913,910],[925,910],[935,913],[941,895],[940,905],[953,905],[960,907],[952,917],[963,921],[908,920],[921,930],[935,935],[948,933],[945,942],[952,940],[947,950],[862,903],[872,898],[863,915],[885,912],[875,922],[885,918],[858,930],[865,935],[882,938],[895,930],[899,929],[842,820],[837,828],[850,837],[860,828],[848,830],[821,822],[815,833],[823,830],[803,842],[825,847],[813,858],[792,848],[780,845],[780,852],[775,865],[763,865],[787,858],[802,852],[827,862],[838,855],[850,860],[860,867],[837,870],[848,873],[863,878],[845,885],[833,895],[820,905],[830,910],[837,913],[843,925],[842,938],[830,927],[817,933],[807,915],[813,922],[778,877],[790,872],[803,873],[817,873],[822,882],[777,888],[797,885],[810,883],[803,895],[790,897],[778,898],[767,895],[750,878],[748,888],[733,892],[727,898],[753,898],[740,902],[727,908],[718,915],[767,910],[757,907],[782,910],[767,922],[783,920],[792,922],[730,913],[692,878],[685,887],[702,885],[705,897],[688,902],[680,910],[705,910],[697,918],[687,915],[663,917],[657,927],[668,927],[683,927],[690,933],[642,938],[638,947],[642,955],[673,940],[662,945],[683,943],[697,940],[655,957],[667,960],[680,953],[693,953],[683,963],[692,968],[703,960],[713,937],[722,930],[712,950],[720,960],[733,933],[745,937],[755,933],[758,936],[750,943],[730,945],[733,960],[743,958],[754,962],[614,925],[627,951],[588,954],[599,956],[593,967],[612,970],[635,965],[625,965],[593,977],[610,980],[620,977],[613,990],[625,987],[600,997],[587,997],[600,1005],[612,997],[622,997],[641,987],[656,983],[656,987],[804,982],[458,382],[427,468],[465,472],[472,494],[411,550],[515,551],[608,424],[496,604],[533,626],[553,622],[688,618],[685,653],[788,698],[910,352],[1175,340],[714,104],[597,159],[508,257],[1250,861],[1116,912],[1136,954],[1152,968],[1214,940],[1221,940],[687,1098],[701,1099],[706,1100],[632,1079],
[983,800],[995,800],[988,815],[1000,808],[1003,820],[990,830],[975,822],[968,832],[960,842],[950,840],[945,828],[935,828],[975,850],[970,845],[948,858],[890,828],[900,845],[892,855],[905,850],[897,857],[885,855],[870,857],[905,862],[910,868],[895,870],[885,870],[870,870],[860,875],[868,885],[880,885],[893,893],[905,893],[912,885],[920,893],[925,895],[920,905],[908,908],[933,905],[945,900],[880,903],[868,905],[870,910],[878,925],[885,925],[945,912],[955,910],[855,842],[830,855],[820,855],[838,863],[845,865],[855,865],[840,878],[828,870],[795,860],[810,850],[818,840],[810,862],[825,870],[815,880],[803,880],[790,880],[765,885],[775,893],[760,893],[765,903],[775,905],[790,905],[805,903],[745,890],[738,897],[745,905],[732,905],[755,900],[720,905],[728,918],[825,920],[833,918],[826,915],[838,930],[822,930],[808,925],[775,915],[800,920],[812,910],[700,895],[695,905],[695,912],[675,920],[670,925],[690,922],[676,935],[660,935],[670,932],[680,935],[697,930],[650,950],[660,950],[672,950],[690,945],[700,950],[712,940],[722,945],[735,952],[745,950],[755,950],[650,943],[668,955],[702,968],[675,965],[605,985],[600,985],[615,985],[618,990],[605,993],[612,980],[605,975],[620,985],[625,975],[600,975],[632,962]];

const digit_points = [digit0, digit1, digit2, digit3, digit4, digit5, digit6, digit7, digit8, digit9];
const digit_colors = ['#DD0000', '#E8901A', '#D4F000', '#94FA2E', '#84F550', '#55F5FF', '#3A6AFA', '#3A10F0', '#A810F0', '#D80790'];
const digit_styles = ['circle', 'cross', 'crossRot', 'circle', 'cross', 'crossRot', 'circle', 'cross', 'crossRot', 'circle'];
const digit_radius = { circle: 6.9, cross: 5.5, crossRot: 7 };

// ************************************
// LEGEND BOX
// ************************************

const legendBox = {
  id: 'legendBox',
  afterLayout(chart) {
    // move the legend to the top left corner of the plot
    const legend = chart.legend;
    const w = legend.width, h = legend.height;
    legend.left = 81.6; legend.top = 55.6;
    legend.right = 81.6 + w; legend.bottom = 55.6 + h;
  },
  afterDraw(chart) {
    const ctx = chart.ctx;
    ctx.save();
    ctx.strokeStyle = '#222';
    ctx.lineWidth = 1;
    ctx.strokeRect(69.5, 56.5, 101, 460);
    ctx.restore();
  }
};

// ************************************
// CHART
// ************************************

new Chart(document.getElementById('chartTsne'), {
  type: 'scatter',
  data: {
    datasets: digit_labels.map((label, i) => ({
      label: label,
      data: digit_points[i],
      pointStyle: digit_styles[i],
      pointRadius: digit_radius[digit_styles[i]],
      backgroundColor: digit_colors[i],
      borderColor: digit_colors[i],
      borderWidth: digit_styles[i] == 'circle' ? 0 : 1.3,
      order: 9 - i,
    }))
  },
  options: {
    responsive: false,
    animation: false,
    layout: { padding: 0, autoPadding: false },
    scales: {
      x: { type: 'linear', display: false, min: 0, max: 1441 },
      y: { type: 'linear', display: false, min: 0, max: 1162, reverse: true },
    },
    plugins: {
      tooltip: { enabled: false },
      legend: {
        display: true,
        position: 'chartArea',
        align: 'start',
        labels: {
          color: 'black',
          usePointStyle: true,
          boxWidth: 31,
          boxHeight: 8.5,
          padding: 11.4,
          font: { family: '"Liberation Sans"', size: 34 },
          sort: (a, b) => a.datasetIndex - b.datasetIndex,
        }
      }
    }
  },
  plugins: [legendBox]
});
</script>
</body>
</html>
